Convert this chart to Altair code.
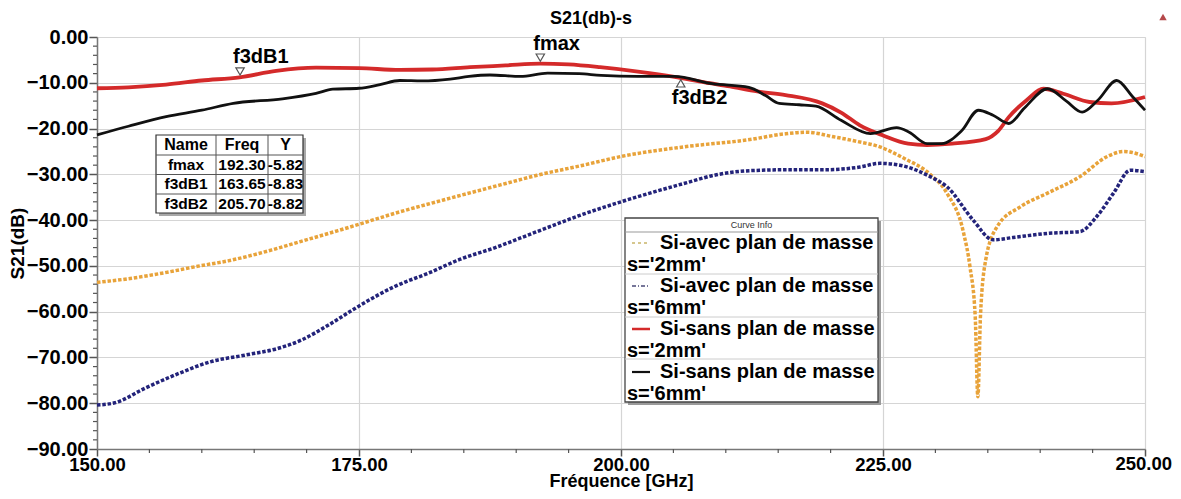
import altair as alt
import pandas as pd

FONT = "Liberation Sans"

# ---------------- data ----------------
freq_red = [150, 153, 156.6, 160, 163.6, 167.1, 170.9, 175, 178.9, 182, 185.6, 189, 192.3, 195, 198,
            201.8, 205.1, 208, 210.4, 213, 215.7, 219.2, 221, 222.8, 225, 227.4, 229.2, 231.6, 234.8,
            236, 237, 238.7, 240.3, 242.2, 244.7, 246.8, 250]
db_red = [-11.2, -11.0, -10.4, -9.5, -8.8, -7.4, -6.7, -6.8, -7.2, -7.1, -6.6, -6.2, -5.8, -6.0, -6.6,
          -7.6, -8.7, -9.9, -10.8, -11.9, -12.7, -14.5, -16.5, -19.3, -21.5, -23.3, -23.6, -23.3, -22.3,
          -20.5, -17.5, -13.8, -11.3, -12.4, -14.2, -14.5, -13.1]

freq_black = [150, 153, 156.6, 160, 163, 167.7, 170.9, 172.5, 175, 177, 178.9, 181, 183.7, 185.5, 187.5,
              190.4, 193, 196, 198.1, 201.6, 205.1, 208.7, 212.2, 213.8, 215.1, 217, 218.6, 221, 223.8,
              226.3, 227.5, 229.2, 230.6, 232.5, 234.1, 235.5, 237, 238.5, 240.7, 242.5, 244, 245.5,
              247.3, 248.8, 250]
db_black = [-21.4, -19.5, -17.4, -16.0, -14.5, -13.5, -12.3, -11.4, -11.2, -10.4, -9.5, -9.6, -9.2, -8.6,
            -8.3, -8.6, -7.9, -8.0, -8.4, -8.6, -8.6, -10.2, -11.0, -12.8, -14.5, -14.8, -15.1, -18.2,
            -21.1, -19.8, -20.8, -23.3, -23.3, -20.5, -16.0, -17.1, -18.9, -15.5, -11.3, -14.0, -16.4,
            -13.8, -9.5, -13.0, -16.0]

freq_orange = [150, 153, 156.2, 159.8, 162.5, 166.7, 169.4, 173, 178.9, 183.7, 188.5, 192, 196.4, 200,
               206, 212.3, 215.5, 217.7, 220.3, 222.5, 224.7, 227, 229.5, 231.1, 232.7, 233.3, 233.8,
               234.05, 234.3, 234.8, 235.9, 238.1, 240.7, 243.8, 246.4, 248, 250]
db_orange = [-53.6, -52.8, -51.6, -50.0, -48.9, -46.5, -44.7, -42.3, -38.2, -35.2, -32.3, -30.2, -28.0,
             -26.1, -24.0, -22.4, -21.2, -20.8, -21.8, -22.8, -24.0, -26.5, -30.0, -34.1, -42.9, -50.2,
             -61.1, -78.6, -61.0, -48.7, -41.4, -37.1, -34.1, -30.5, -26.1, -25.0, -26.1]

freq_blue = [150, 151.7, 154.6, 157.8, 160.9, 164.1, 167.3, 169.5, 172.1, 174.9, 178.4, 181.6, 184.6,
             188, 192, 196.4, 200, 206, 209.1, 212.3, 216, 219.5, 222.8, 224.7, 226.6, 229.5, 231.1,
             233.6, 235.5, 237.4, 240.7, 243.8, 245.4, 247, 248.6, 250]
db_blue = [-80.4, -79.9, -76.7, -73.5, -70.9, -69.5, -68.0, -66.2, -62.9, -58.9, -54.5, -51.6, -48.6,
           -46.0, -42.5, -38.7, -36.0, -32.0, -30.1, -29.2, -29.0, -29.0, -28.4, -27.6, -28.0, -30.5,
           -32.7, -40.0, -44.3, -43.8, -42.9, -42.5, -39.2, -34.1, -29.1, -29.4]

marker_names = ["fmax", "f3dB1", "f3dB2"]
marker_freq = [192.30, 163.65, 205.70]
marker_y = [-5.82, -8.83, -8.82]

legend_line1 = ["Si-avec plan de masse", "Si-avec plan de masse", "Si-sans plan de masse", "Si-sans plan de masse"]
legend_line2 = ["s='2mm'", "s='6mm'", "s='2mm'", "s='6mm'"]

chart_title = "S21(db)-s"
x_ticks = [150, 175, 200, 225, 250]
y_ticks = [-90, -80, -70, -60, -50, -40, -30, -20, -10, 0]
x_minor = [155, 160, 165, 170, 180, 185, 190, 195, 205, 210, 215, 220, 230, 235, 240, 245]
y_minor = [v for v in range(-88, 0, 2) if v % 10 != 0]

# ---------------- scales / axes ----------------
W, H = 1048, 412
xs = alt.Scale(domain=[150, 250], nice=False, zero=False)
ys = alt.Scale(domain=[-90, 0], nice=False, zero=False)

xaxis = alt.Axis(values=x_ticks, format=".2f", title="Fréquence [GHz]",
                 labelExpr="datum.value == 250 ? '' : datum.label",
                 labelFont=FONT, labelFontSize=18.5, labelFontWeight="bold", labelColor="black",
                 labelFlush=False, labelPadding=-1, tickSize=7, tickColor="#555", tickWidth=1.5,
                 domainColor="#777", domainWidth=1.5, grid=True, gridColor="#d5d5d5", gridWidth=1.2,
                 titleFont=FONT, titleFontSize=18, titleFontWeight="bold", titleColor="black",
                 titlePadding=-1)
yaxis = alt.Axis(values=y_ticks, format=".2f", title="S21(dB)",
                 labelFont=FONT, labelFontSize=20, labelFontWeight="bold", labelColor="black",
                 labelFlush=False, labelPadding=1, tickSize=8, tickColor="#555", tickWidth=1.5,
                 domainColor="#777", domainWidth=1.5, grid=True, gridColor="#d5d5d5", gridWidth=1.2,
                 titleFont=FONT, titleFontSize=19, titleFontWeight="bold", titleColor="black",
                 titlePadding=-1)


def X(field="f"):
    return alt.X(f"{field}:Q", scale=xs, axis=xaxis)


def Y(field="db"):
    return alt.Y(f"{field}:Q", scale=ys, axis=yaxis)


def series(fs, ds, color, width, dash=None):
    df = pd.DataFrame({"f": fs, "db": ds})
    kw = dict(color=color, strokeWidth=width, interpolate="monotone")
    if dash:
        kw["strokeDash"] = dash
    return alt.Chart(df).mark_line(**kw).encode(x=X(), y=Y())


dummy = pd.DataFrame({"k": [0]})


def txt(s, x, y, size=20, align="left", weight="bold", color="black"):
    return alt.Chart(dummy).mark_text(text=s, font=FONT, fontSize=size, fontWeight=weight,
                                      align=align, baseline="middle", color=color).encode(
        x=alt.value(x), y=alt.value(y))


def rule(x1, y1, x2, y2, color="#333", w=1.0, dash=None):
    kw = dict(color=color, strokeWidth=w)
    if dash:
        kw["strokeDash"] = dash
    return alt.Chart(dummy).mark_rule(**kw).encode(
        x=alt.value(x1), y=alt.value(y1), x2=alt.value(x2), y2=alt.value(y2))


def box(x1, y1, x2, y2, fill="white", stroke=None, w=1.0):
    kw = dict(fill=fill)
    if stroke:
        kw["stroke"] = stroke
        kw["strokeWidth"] = w
    return alt.Chart(dummy).mark_rect(**kw).encode(
        x=alt.value(x1), y=alt.value(y1), x2=alt.value(x2), y2=alt.value(y2))


layers = []

# curves
ORANGE, BLUE, RED, BLACK = "#e8a33a", "#23237a", "#d42a2a", "#111111"
layers.append(series(freq_orange, db_orange, ORANGE, 3.5, [3.5, 1.8]))
layers.append(series(freq_blue, db_blue, BLUE, 3.5, [3.5, 1.8]))
layers.append(series(freq_red, db_red, RED, 3.8))
layers.append(series(freq_black, db_black, BLACK, 2.8))

# minor ticks
layers.append(alt.Chart(pd.DataFrame({"db": y_minor})).mark_rule(color="#555", strokeWidth=1.2).encode(
    y=Y(), x=alt.value(-4), x2=alt.value(0)))
layers.append(alt.Chart(pd.DataFrame({"f": x_minor})).mark_rule(color="#555", strokeWidth=1.2).encode(
    x=X(), y=alt.value(H), y2=alt.value(H + 4)))

# last x tick label, kept inside the page (right-aligned just past the axis end)
layers.append(alt.Chart(pd.DataFrame({"f": [x_ticks[-1]], "lab": [f"{x_ticks[-1]:.2f}"]})).mark_text(
    font=FONT, fontSize=18.5, fontWeight="bold", align="right", baseline="top", dx=27, color="black").encode(
    x=X(), y=alt.value(H + 6), text="lab:N"))

# markers
mk = pd.DataFrame({"name": marker_names, "f": marker_freq, "db": marker_y})
down = alt.Chart(mk).transform_filter("datum.name != 'f3dB2'")
up = alt.Chart(mk).transform_filter("datum.name == 'f3dB2'")
layers.append(down.mark_point(shape="triangle-down", filled=True, fill="white", stroke="#555",
                              strokeWidth=1.2, size=70, opacity=1).encode(
    x=X(), y=Y(), yOffset=alt.value(-6)))
layers.append(up.mark_point(shape="triangle-up", filled=True, fill="white", stroke="#555",
                            strokeWidth=1.2, size=70, opacity=1).encode(
    x=X(), y=Y(), yOffset=alt.value(6)))
layers.append(down.mark_text(font=FONT, fontSize=20, fontWeight="bold", align="left",
                             baseline="middle", dx=-7, dy=-20, color="black").encode(
    x=X(), y=Y(), text="name:N"))
layers.append(up.mark_text(font=FONT, fontSize=20, fontWeight="bold", align="left",
                           baseline="middle", dx=-9, dy=21, color="black").encode(
    x=X(), y=Y(), text="name:N"))

# marker table
TL, TC1, TC2, TR = 59, 119, 171, 206
TT, TR1, TR2, TR3, TB = 98, 118, 137.5, 157, 176
layers.append(box(TL + 3, TT + 3, TR + 3, TB + 3, fill="#a8a8a8"))
layers.append(box(TL, TT, TR, TB, fill="white", stroke="#333", w=1.2))
for yy in (TR1, TR2, TR3):
    layers.append(rule(TL, yy, TR, yy, color="#555", w=1))
for xx in (TC1, TC2):
    layers.append(rule(xx, TT, xx, TB, color="#555", w=1))
row_y = [(TT + TR1) / 2, (TR1 + TR2) / 2, (TR2 + TR3) / 2, (TR3 + TB) / 2]
col_x = [(TL + TC1) / 2, (TC1 + TC2) / 2, (TC2 + TR) / 2]
for j, h in enumerate(["Name", "Freq", "Y"]):
    layers.append(txt(h, col_x[j], row_y[0], size=16, align="center"))
for i in range(3):
    cells = [marker_names[i], f"{marker_freq[i]:.2f}", f"{marker_y[i]:.2f}"]
    for j, c in enumerate(cells):
        layers.append(txt(c, col_x[j], row_y[i + 1], size=15.5, align="center"))

# curve info legend
LL, LR, LT, LB = 528, 781, 181, 365
layers.append(box(LL + 3, LT + 3, LR + 3, LB + 3, fill="#9a9a9a"))
layers.append(box(LL, LT, LR, LB, fill="white", stroke="#444", w=1.3))
layers.append(txt("Curve Info", (LL + LR) / 2, 188, size=9, align="center", weight="normal", color="#333"))
layers.append(rule(LL, 195, LR, 195, color="#999", w=1))
for yy in (237, 280, 322):
    layers.append(rule(LL, yy, LR, yy, color="#cccccc", w=1))
samples = [("#c9b56a", 1.6, [3, 3]), ("#4a4a78", 1.6, [4, 2, 1, 2]), (RED, 2.5, None), (BLACK, 2.2, None)]
for i in range(4):
    y1 = 206 + i * 43
    col, w, dash = samples[i]
    layers.append(rule(535, y1, 553, y1, color=col, w=w, dash=dash))
    layers.append(txt(legend_line1[i], 563, y1, size=20))
    layers.append(txt(legend_line2[i], 530, y1 + 22, size=20))

# chart title and small red triangle icon at top right
layers.append(txt(chart_title, 494, -18, size=18, align="center"))
layers.append(alt.Chart(dummy).mark_point(shape="triangle-up", filled=True, color="#b5484a",
                                          size=55, opacity=1).encode(
    x=alt.value(1066), y=alt.value(-20)))

chart = alt.layer(*layers).properties(
    width=W, height=H,
    autosize=alt.AutoSizeParams(type="none"),
    padding={"left": 89, "top": 29, "right": 28, "bottom": 42},
).configure_view(stroke="#8a8a8a", strokeWidth=1.5).configure(background="white")

chart.save("out.html", embed_options={"renderer": "svg", "actions": False})
